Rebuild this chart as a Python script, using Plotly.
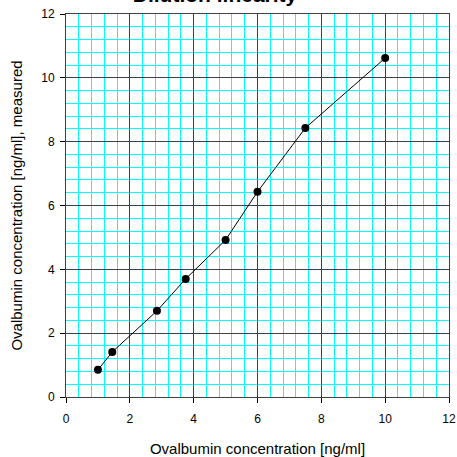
import plotly.graph_objects as go

x_expected = [1.0, 1.45, 2.85, 3.75, 5.0, 6.0, 7.5, 10.0]
y_measured = [0.85, 1.41, 2.7, 3.7, 4.92, 6.43, 8.43, 10.62]
major_ticks = [0, 2, 4, 6, 8, 10, 12]
minor_ticks = [0.4, 0.8, 1.2, 1.6, 2.4, 2.8, 3.2, 3.6, 4.4, 4.8, 5.2, 5.6,
               6.4, 6.8, 7.2, 7.6, 8.4, 8.8, 9.2, 9.6, 10.4, 10.8, 11.2, 11.6]

fig = go.Figure()
# empty helper trace on the bottom subplot that carries the cyan minor grid
fig.add_trace(go.Scatter(x=[], y=[], xaxis="x", yaxis="y", showlegend=False, hoverinfo="skip"))
# data on the top subplot (same domain) with the dark major grid
fig.add_trace(go.Scatter(
    x=x_expected, y=y_measured, mode="lines+markers",
    xaxis="x2", yaxis="y2",
    line=dict(color="black", width=1),
    marker=dict(color="black", size=8),
    showlegend=False, cliponaxis=False,
))

font = dict(family="Liberation Sans, Arial", size=12, color="black")
tfont = dict(family="Liberation Sans, Arial", size=15, color="black")

minor_axis = dict(
    range=[0, 12], tickmode="array", tickvals=minor_ticks,
    showgrid=True, gridcolor="#00FFFF", gridwidth=1,
    showticklabels=False, ticks="", zeroline=False, automargin=False,
    showline=False, domain=[0, 1],
)
major_axis = dict(
    range=[0, 12], tickmode="array", tickvals=major_ticks,
    ticks="outside", ticklen=5, tickcolor="black", tickwidth=1,
    showgrid=True, gridcolor="#404040", gridwidth=1,
    showline=True, linecolor="#404040", linewidth=1, mirror=True,
    zeroline=False, automargin=False, tickfont=font, domain=[0, 1],
)

fig.update_layout(
    template="none",
    width=457, height=457,
    margin=dict(l=66, r=8, t=14, b=60, autoexpand=False),
    plot_bgcolor="rgba(0,0,0,0)", paper_bgcolor="white",
    xaxis=dict(**minor_axis, anchor="y"),
    yaxis=dict(**minor_axis, anchor="x"),
    xaxis2=dict(**major_axis, anchor="y2", side="bottom", ticklabelstandoff=6,
                title=dict(text="Ovalbumin concentration [ng/ml]", font=tfont, standoff=18)),
    yaxis2=dict(**major_axis, anchor="x2", side="left", ticklabelstandoff=3,
                title=dict(text="Ovalbumin concentration [ng/ml], measured", font=tfont, standoff=14)),
    title=dict(text="<b>Dilution linearity</b>", x=215/457, xanchor="center",
               y=1.0, yanchor="top", yref="container", pad=dict(t=-13),
               font=dict(family="Liberation Sans, Arial", size=21, color="black")),
)

fig.write_html("out.html", config={"displayModeBar": False},
               post_script="document.body.style.margin='0';document.body.style.overflow='hidden';")
